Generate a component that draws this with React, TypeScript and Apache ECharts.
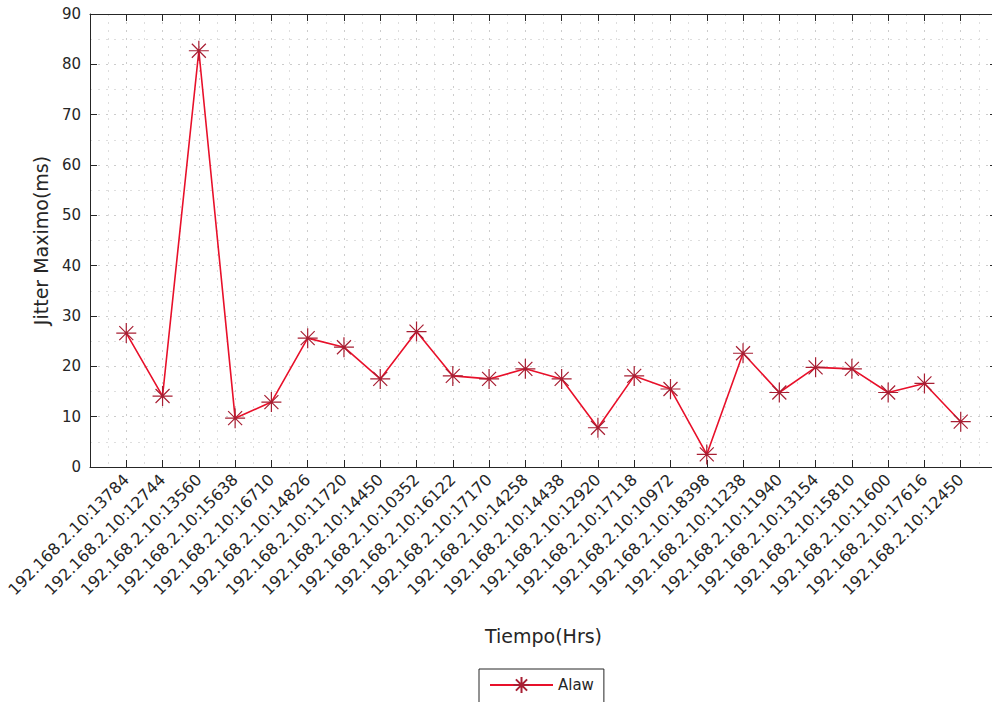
import React, { useEffect, useRef } from "react";
import * as echarts from "echarts";

// Source endpoints (IP:port) along the horizontal axis
const endpoints: string[] = [
  "192.168.2.10:13784",
  "192.168.2.10:12744",
  "192.168.2.10:13560",
  "192.168.2.10:15638",
  "192.168.2.10:16710",
  "192.168.2.10:14826",
  "192.168.2.10:11720",
  "192.168.2.10:14450",
  "192.168.2.10:10352",
  "192.168.2.10:16122",
  "192.168.2.10:17170",
  "192.168.2.10:14258",
  "192.168.2.10:14438",
  "192.168.2.10:12920",
  "192.168.2.10:17118",
  "192.168.2.10:10972",
  "192.168.2.10:18398",
  "192.168.2.10:11238",
  "192.168.2.10:11940",
  "192.168.2.10:13154",
  "192.168.2.10:15810",
  "192.168.2.10:11600",
  "192.168.2.10:17616",
  "192.168.2.10:12450",
];

// Maximum jitter (ms) per endpoint, codec A-law
const alawJitter: number[] = [
  26.6, 14.1, 82.7, 9.7, 12.9, 25.6, 23.8, 17.5, 26.9, 18.1, 17.5, 19.5,
  17.5, 7.8, 18.1, 15.5, 2.5, 22.6, 14.8, 19.8, 19.5, 14.8, 16.6, 9.0,
];

const yTicks = { min: 0, max: 90, interval: 10 };

const FONT = "DejaVu Sans";
const INK = "#262626";
const LINE_RED = "#e8102a";
const STAR_RED = "#a81f33";
const STAR = "path://M10,0L10,20M0,10L20,10M3,3L17,17M3,17L17,3";

export default function App() {
  const ref = useRef<HTMLDivElement>(null);

  useEffect(() => {
    if (!ref.current) return;
    const chart = echarts.init(ref.current, null, { renderer: "svg" });

    const xMax = endpoints.length + 1;
    const gridLine = { show: true, lineStyle: { color: "#cccccc", type: [2, 6], width: 1 } };
    const minorLine = { show: true, lineStyle: { color: "#dedede", type: [2, 6], width: 1 } };

    const xCommon = {
      type: "value" as const,
      min: 0,
      max: xMax,
      interval: 1,
      axisLine: { show: true, onZero: false, lineStyle: { color: INK, width: 1 } },
      axisTick: { show: true, inside: true, length: 7, lineStyle: { color: INK } },
    };
    const yCommon = {
      type: "value" as const,
      min: yTicks.min,
      max: yTicks.max,
      interval: yTicks.interval,
      axisLine: { show: true, onZero: false, lineStyle: { color: INK, width: 1 } },
      axisTick: { show: true, inside: true, length: 7, lineStyle: { color: INK } },
    };

    chart.setOption({
      animation: false,
      backgroundColor: "#ffffff",
      grid: { left: 90, top: 14, right: 3, bottom: 235, containLabel: false },
      xAxis: [
        {
          ...xCommon,
          position: "bottom",
          name: "Tiempo(Hrs)",
          nameLocation: "middle",
          nameGap: 159,
          nameTextStyle: { fontFamily: FONT, fontSize: 19, color: INK },
          axisLabel: {
            show: true,
            rotate: 45,
            margin: 10,
            fontFamily: FONT,
            fontSize: 16,
            color: INK,
            formatter: (v: number) =>
              v >= 1 && v <= endpoints.length ? endpoints[Math.round(v) - 1] : "",
          },
          splitLine: gridLine,
          minorTick: { show: false, splitNumber: 2 },
          minorSplitLine: minorLine,
        },
        {
          ...xCommon,
          position: "top",
          axisLabel: { show: false },
          splitLine: { show: false },
        },
      ],
      yAxis: [
        {
          ...yCommon,
          position: "left",
          name: "Jitter Maximo(ms)",
          nameLocation: "middle",
          nameGap: 40,
          nameTextStyle: { fontFamily: FONT, fontSize: 19, color: INK },
          axisLabel: { show: true, margin: 9, fontFamily: FONT, fontSize: 15, color: INK },
          splitLine: gridLine,
          minorTick: { show: false, splitNumber: 2 },
          minorSplitLine: minorLine,
        },
        {
          ...yCommon,
          position: "right",
          axisLabel: { show: false },
          splitLine: { show: false },
        },
      ],
      legend: {
        show: true,
        left: 479,
        top: 669,
        padding: [7, 10, 12, 10],
        backgroundColor: "#ffffff",
        borderColor: INK,
        borderWidth: 1,
        borderRadius: 0,
        itemWidth: 63,
        itemHeight: 20,
        itemGap: 5,
        textStyle: { fontFamily: FONT, fontSize: 15, color: INK },
        data: ["Alaw"],
      },
      series: [
        {
          name: "Alaw",
          type: "line",
          xAxisIndex: 0,
          yAxisIndex: 0,
          data: alawJitter.map((v, i) => [i + 1, v]),
          symbol: STAR,
          symbolSize: 20,
          lineStyle: { color: LINE_RED, width: 1.6 },
          itemStyle: { color: STAR_RED, borderColor: STAR_RED, borderWidth: 1.2 },
          emphasis: { disabled: true },
        },
      ],
    });

    return () => chart.dispose();
  }, []);

  return (
    <div
      style={{
        position: "absolute",
        left: 0,
        top: 0,
        width: 992,
        height: 702,
        overflow: "hidden",
        background: "#ffffff",
      }}
    >
      <div ref={ref} style={{ width: 1000, height: 702 }} />
    </div>
  );
}
